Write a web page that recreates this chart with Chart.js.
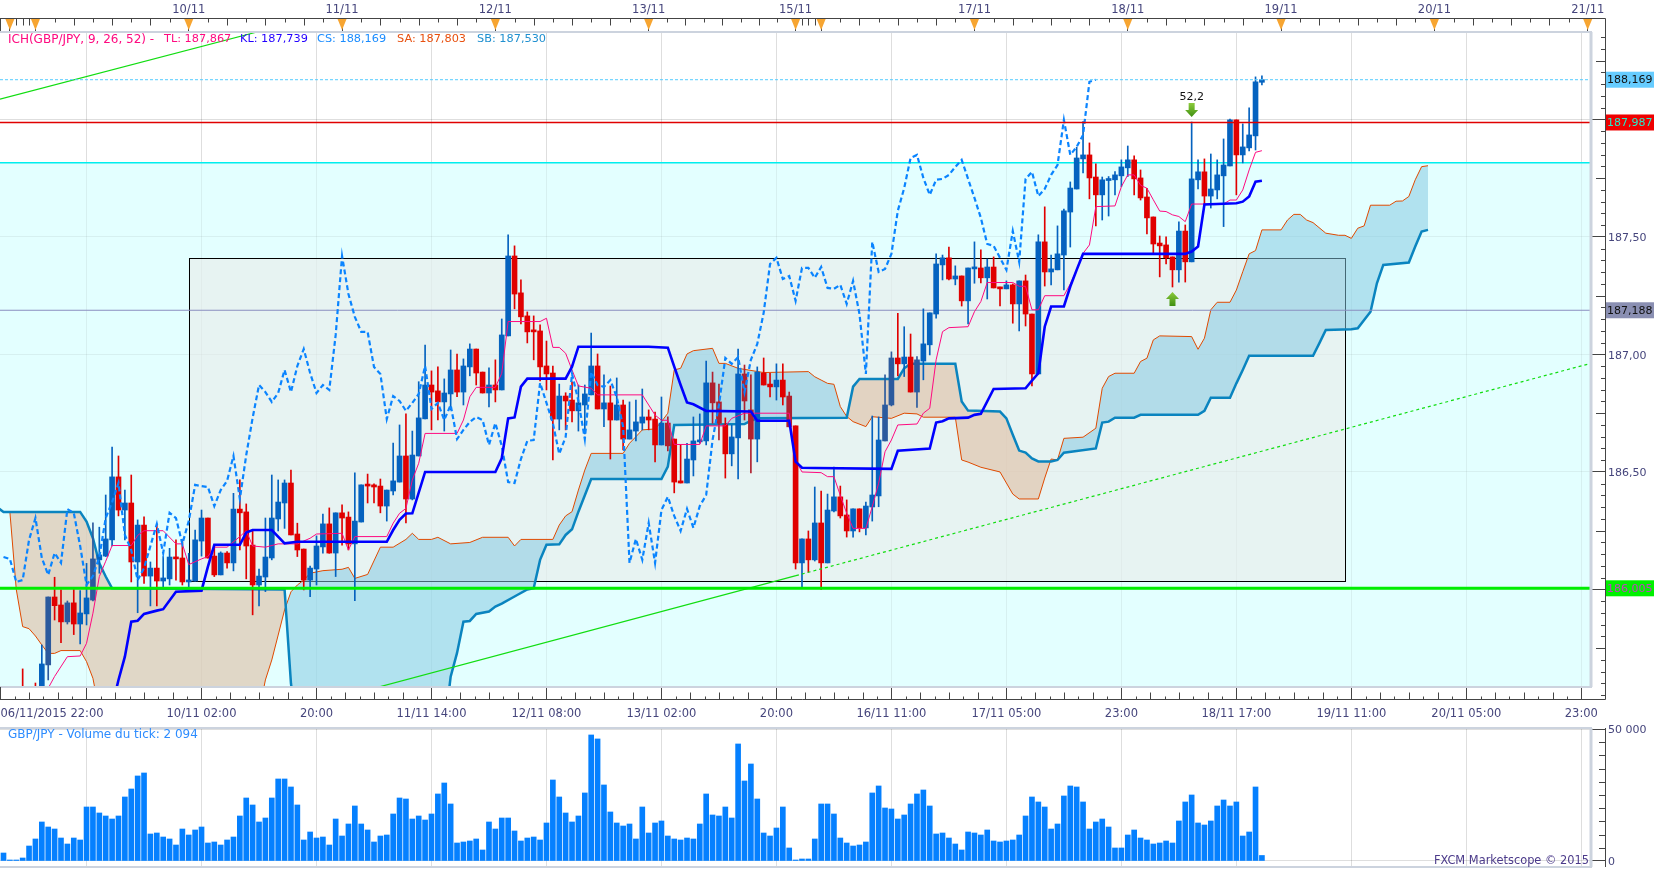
<!DOCTYPE html>
<html>
<head>
<meta charset="utf-8">
<title>GBP/JPY Ichimoku</title>
<script src="https://cdn.jsdelivr.net/npm/chart.js@4/dist/chart.umd.min.js"></script>
<style>
html,body{margin:0;padding:0;background:#fff;overflow:hidden;}
canvas{position:absolute;left:0;}
#mainChart{top:0;}
#volChart{top:722px;}
</style>
</head>
<body>
<canvas id="mainChart" width="1663" height="722"></canvas>
<canvas id="volChart" width="1663" height="148"></canvas>
<script>
// hourly candles, index 0 = first bar on the left
const opens=[185.50,185.52,185.48,185.56,185.52,185.57,185.55,185.679,185.968,185.934,
185.862,185.943,185.853,185.896,185.955,186.126,186.142,186.211,186.479,186.338,
186.368,186.117,186.274,186.057,186.091,186.036,186.045,186.138,186.134,186.032,
186.036,186.206,186.304,186.142,186.062,186.155,186.113,186.342,186.330,186.189,
186.019,186.053,186.134,186.300,186.368,186.453,186.236,186.172,186.040,186.087,
186.181,186.279,186.155,186.326,186.308,186.194,186.287,186.445,186.445,186.440,
186.355,186.419,186.457,186.568,186.385,186.568,186.726,186.870,186.845,186.798,
186.832,186.934,186.840,186.947,187.023,186.925,186.836,186.870,186.849,187.079,
187.419,187.262,187.164,187.100,187.100,186.951,186.921,186.725,186.823,186.806,
186.760,186.785,186.828,186.951,186.768,186.794,186.721,186.785,186.640,186.674,
186.708,186.734,186.725,186.615,186.708,186.640,186.462,186.453,186.551,186.628,
186.632,186.879,186.798,186.700,186.577,186.645,186.917,186.764,186.640,186.921,
186.874,186.862,186.891,186.823,186.696,186.113,186.215,186.126,186.283,186.113,
186.334,186.394,186.317,186.249,186.343,186.262,186.351,186.398,186.632,186.785,
186.985,186.960,186.989,186.840,186.972,187.041,187.172,187.381,187.411,187.321,
187.334,187.228,187.364,187.368,187.326,187.372,187.287,187.279,187.296,187.215,
187.313,187.172,186.917,187.479,187.351,187.360,187.423,187.606,187.704,187.832,
187.849,187.755,187.679,187.740,187.743,187.760,187.794,187.828,187.751,187.670,
187.585,187.474,187.466,187.415,187.360,187.525,187.394,187.743,187.777,187.674,
187.700,187.760,187.802,187.998,187.849,187.879,187.930,188.158];
const highs=[185.54,185.55,185.56,185.662,185.58,185.602,185.764,185.968,186.052,185.998,
185.951,186.0,185.995,186.111,186.284,186.265,186.402,186.606,186.568,186.423,
186.487,186.296,186.309,186.117,186.279,186.140,186.175,186.211,186.211,186.154,
186.253,186.338,186.304,186.182,186.160,186.161,186.409,186.466,186.364,186.253,
186.087,186.304,186.487,186.466,186.466,186.508,186.282,186.172,186.100,186.228,
186.321,186.347,186.326,186.360,186.330,186.496,186.445,186.491,186.449,186.470,
186.423,186.623,186.700,186.747,186.674,186.884,187.040,186.930,186.947,186.896,
187.019,187.002,186.981,187.045,187.023,186.925,186.943,186.977,187.151,187.509,
187.462,187.317,187.181,187.164,187.126,187.057,186.951,186.874,186.837,186.883,
186.870,186.870,187.091,187.002,186.913,186.866,186.900,186.806,186.798,186.806,
186.853,186.764,186.755,186.819,186.735,186.640,186.615,186.622,186.734,186.747,
186.972,186.925,186.874,186.730,186.700,187.023,186.955,186.913,186.947,186.985,
186.920,186.960,186.960,186.840,186.696,186.215,186.249,186.436,186.419,186.406,
186.521,186.440,186.381,186.343,186.343,186.372,186.738,186.734,186.913,187.011,
187.175,187.118,187.087,186.991,187.194,187.177,187.428,187.423,187.457,187.377,
187.334,187.368,187.479,187.445,187.406,187.415,187.287,187.313,187.300,187.313,
187.338,187.172,187.509,187.628,187.423,187.547,187.619,187.734,187.882,187.991,
187.900,187.811,187.755,187.757,187.778,187.828,187.887,187.845,187.785,187.707,
187.585,187.504,187.500,187.415,187.564,187.551,187.989,187.828,187.832,187.853,
187.828,187.917,188.002,187.998,187.981,188.049,188.181,188.185];
const lows=[185.46,185.46,185.44,185.50,185.48,185.50,185.50,185.615,185.870,185.774,
185.853,185.808,185.768,185.849,185.951,186.069,186.140,186.185,186.313,186.211,
186.032,185.901,186.026,185.930,185.930,186.012,186.019,186.040,186.019,186.012,
186.035,186.142,186.133,186.055,186.062,186.091,186.079,186.168,186.045,185.892,
185.930,185.991,186.126,186.249,186.260,186.232,186.140,185.998,185.969,186.019,
186.154,186.154,186.055,186.189,186.168,185.952,186.287,186.368,186.368,186.326,
186.291,186.402,186.457,186.283,186.381,186.568,186.726,186.679,186.721,186.674,
186.764,186.820,186.785,186.909,186.870,186.836,186.777,186.798,186.849,187.079,
187.194,187.130,187.049,186.977,186.887,186.849,186.551,186.679,186.679,186.713,
186.674,186.662,186.828,186.768,186.693,186.555,186.721,186.594,186.640,186.632,
186.679,186.679,186.543,186.615,186.589,186.411,186.453,186.453,186.483,186.622,
186.615,186.707,186.636,186.474,186.526,186.470,186.721,186.496,186.543,186.870,
186.819,186.806,186.785,186.692,186.087,186.011,186.074,186.121,186.0,186.113,
186.330,186.304,186.223,186.223,186.245,186.232,186.291,186.352,186.632,186.781,
186.909,186.906,186.840,186.775,186.892,186.998,187.154,187.317,187.317,187.296,
187.206,187.130,187.303,187.304,187.236,187.283,187.206,187.279,187.133,187.100,
187.121,186.866,186.917,187.291,187.296,187.360,187.275,187.457,187.704,187.772,
187.662,187.547,187.572,187.589,187.679,187.714,187.757,187.679,187.657,187.513,
187.428,187.330,187.385,187.287,187.308,187.308,187.394,187.704,187.640,187.623,
187.662,187.544,187.802,187.679,187.815,187.866,187.870,188.147];
const closes=[185.52,185.48,185.53,185.52,185.56,185.53,185.683,185.968,185.931,185.862,
185.943,185.853,185.900,185.964,186.130,186.147,186.215,186.479,186.338,186.368,
186.117,186.274,186.057,186.091,186.036,186.049,186.138,186.130,186.032,186.040,
186.211,186.304,186.134,186.062,186.155,186.113,186.342,186.326,186.185,186.019,
186.057,186.138,186.304,186.372,186.453,186.232,186.168,186.040,186.091,186.185,
186.279,186.155,186.326,186.304,186.194,186.291,186.445,186.440,186.436,186.355,
186.423,186.462,186.568,186.385,186.572,186.730,186.870,186.840,186.798,186.836,
186.934,186.840,186.951,187.023,186.921,186.836,186.870,186.849,187.083,187.419,
187.257,187.160,187.096,187.096,186.947,186.917,186.725,186.823,186.802,186.760,
186.794,186.832,186.951,186.768,186.794,186.721,186.785,186.640,186.679,186.713,
186.734,186.721,186.615,186.708,186.611,186.457,186.453,186.555,186.632,186.636,
186.879,186.794,186.707,186.577,186.649,186.917,186.802,186.640,186.925,186.870,
186.862,186.891,186.819,186.692,186.113,186.215,186.126,186.283,186.113,186.338,
186.394,186.313,186.249,186.343,186.262,186.355,186.402,186.636,186.785,186.985,
186.960,186.989,186.840,186.977,187.045,187.177,187.385,187.411,187.321,187.334,
187.228,187.368,187.368,187.326,187.372,187.283,187.279,187.296,187.215,187.313,
187.172,186.917,187.479,187.351,187.364,187.428,187.611,187.708,187.836,187.849,
187.751,187.679,187.743,187.747,187.764,187.798,187.828,187.747,187.666,187.581,
187.470,187.462,187.411,187.360,187.525,187.394,187.747,187.777,187.674,187.704,
187.764,187.806,187.998,187.849,187.883,187.934,188.160,188.169];
// dull coloured candles
const dimBars=[7,10,14,104,111,112,116,117,123,138,139,143];

const volumes=[3030,380,380,1140,5680,8340,14780,12880,12120,8710,
6440,8710,7960,20460,20460,18190,17050,15910,17050,24250,
27280,32210,33340,10230,10610,9090,8340,6060,12120,9850,
11750,12880,6820,7200,6060,7960,9090,17050,23870,21220,
14780,16290,23870,31070,31070,28040,21220,7960,10990,8710,
9090,6060,15910,9470,14020,20840,14020,11750,7200,9470,
9850,17810,23870,23490,15910,17050,15530,17810,25390,29550,
21600,6820,7200,7580,8340,4170,14780,12120,16290,16290,
11370,7580,8710,9090,7960,14400,30690,24250,18190,14780,
17050,25770,47740,46230,28800,18570,14400,13260,14020,8340,
20460,10610,14400,15160,9470,8340,7960,8710,8340,14020,
25390,17430,17050,20460,16290,44330,30310,36750,23490,10610,
9470,12500,20460,4930,380,760,760,8340,21600,21600,
17810,8710,6820,5680,6060,7200,25770,28420,20080,19700,
15910,17430,21600,25390,26900,20840,10230,10610,8710,6440,
4170,10990,10610,9850,11750,7580,7200,7580,7960,9850,
17050,24250,22360,20460,12120,14020,24630,28420,28040,22360,
12120,14780,15910,12880,4930,4930,9850,11750,8710,7960,
6440,6820,7580,6820,15160,22360,25010,14400,13640,15160,
20840,23110,20840,22360,9470,10990,28040,2094];

// Ichimoku lines, read at the bars where they change direction
const tenkanBars=[7,8,10,12,13,14,15,16,17,20,21,22,25,27,28,29,31,32,33,35,37,38,39,41,43,46,48,49,53,54,55,60,61,62,63,64,65,66,71,72,73,74,77,78,79,84,85,86,87,88,89,90,92,93,100,101,102,103,104,105,109,110,113,114,116,123,124,125,128,129,130,131,132,133,135,136,137,138,139,140,143,144,145,146,147,148,151,152,153,154,158,159,160,161,162,163,166,167,168,169,170,171,174,175,176,177,178,179,180,181,182,183,184,185,186,191,192,193,194,195,196,197];
const tenkanVals=[185.58,185.63,185.714,185.717,185.771,185.899,186.055,186.12,186.187,186.187,186.23,186.25,186.25,186.194,186.194,186.106,186.13,186.14,186.18,186.18,186.225,186.25,186.185,186.18,186.194,186.194,186.218,186.236,186.239,186.168,186.225,186.225,186.282,186.324,186.345,186.466,186.537,186.664,186.664,186.721,186.82,186.86,186.86,186.92,187.14,187.14,187.154,187.03,187.03,187.005,186.934,186.866,186.856,186.828,186.828,186.785,186.742,186.72,186.72,186.617,186.617,186.696,186.696,186.728,186.75,186.75,186.551,186.5,186.497,186.48,186.48,186.40,186.324,186.26,186.26,186.352,186.452,186.586,186.636,186.70,186.704,186.75,186.771,186.977,187.097,187.114,187.118,187.182,187.225,187.306,187.306,187.29,187.29,187.19,187.19,187.25,187.25,187.30,187.36,187.43,187.466,187.629,187.632,187.714,187.764,187.764,187.72,187.707,187.658,187.61,187.608,187.594,187.587,187.565,187.64,187.64,187.657,187.657,187.70,187.785,187.86,187.867];
const kijunBars=[17,18,19,20,21,22,24,25,27,31,32,33,37,38,39,42,44,46,60,61,62,63,64,66,77,78,79,80,81,82,88,89,90,101,104,105,106,107,108,110,117,118,123,124,125,127,139,140,145,146,147,148,151,152,153,155,160,161,162,163,164,166,167,168,169,185,186,187,188,193,194,195,196,197];
const kijunVals=[185.5,185.615,185.714,185.863,185.867,185.896,185.91,185.916,185.99,185.995,186.097,186.19,186.19,186.242,186.253,186.253,186.196,186.203,186.203,186.253,186.296,186.323,186.324,186.5,186.5,186.558,186.728,186.732,186.863,186.897,186.897,186.948,187.033,187.033,187.029,186.948,186.87,186.796,186.788,186.76,186.757,186.718,186.718,186.544,186.518,186.517,186.513,186.59,186.6,186.71,186.716,186.728,186.731,186.743,186.747,186.853,186.856,186.889,186.92,187.118,187.204,187.204,187.289,187.36,187.428,187.428,187.438,187.459,187.638,187.643,187.65,187.672,187.735,187.739];
const spanABars=[1,2,3,4,5,6,7,8,9,12,13,14,15,40,41,42,43,44,45,46,47,48,50,53,54,55,57,59,61,63,64,65,67,68,70,73,75,79,80,81,86,87,88,89,90,91,92,97,98,99,100,102,103,104,105,106,107,108,111,112,113,115,119,126,127,128,129,130,131,132,133,135,136,139,141,143,144,149,150,151,153,156,157,158,159,162,163,164,165,166,169,171,172,173,174,177,178,179,180,181,186,187,188,189,190,192,193,194,195,196,197,200,201,202,203,204,205,207,209,210,211,212,213,214,217,218,219,220,221,222,223];
const spanAVals=[186.33,186.0,185.842,185.833,185.802,185.764,185.728,185.728,185.74,185.74,185.693,185.622,185.48,185.48,185.615,185.70,185.806,185.913,185.99,186.019,186.04,186.069,186.08,186.086,186.094,186.047,186.064,186.18,186.18,186.213,186.239,186.213,186.213,186.222,186.194,186.2,186.222,186.222,186.185,186.213,186.213,186.274,186.313,186.331,186.423,186.508,186.579,186.579,186.622,186.65,186.679,186.683,186.714,186.75,186.934,186.941,187.002,187.016,187.026,186.962,186.962,186.941,186.923,186.927,186.905,186.891,186.877,186.873,186.778,186.736,186.714,186.693,186.735,186.728,186.75,186.747,186.733,186.733,186.551,186.542,186.52,186.5,186.453,186.406,186.385,186.385,186.474,186.555,186.551,186.643,186.648,186.686,186.856,186.906,186.92,186.92,186.97,186.984,187.062,187.079,187.076,187.022,187.069,187.19,187.222,187.222,187.274,187.352,187.428,187.442,187.53,187.53,187.572,187.596,187.596,187.572,187.561,187.516,187.507,187.507,187.494,187.537,187.547,187.635,187.635,187.652,187.653,187.672,187.743,187.799,187.803];
const spanBBars=[-1,0,12,13,14,15,16,17,44,45,46,69,70,71,72,73,74,76,77,78,80,82,83,84,85,87,88,89,90,92,103,104,105,116,117,118,132,133,134,140,141,142,149,150,151,156,157,158,159,160,161,162,164,165,166,171,172,173,174,177,178,187,188,189,192,193,194,195,205,206,207,211,212,213,214,215,216,220,221,222,223];
const spanBVals=[186.35,186.33,186.33,186.289,186.218,186.111,186.055,186.005,186.0,185.60,185.40,185.40,185.629,185.73,185.863,185.866,185.896,185.906,185.927,185.94,185.97,186.0,186.005,186.126,186.19,186.192,186.232,186.256,186.331,186.47,186.47,186.523,186.7,186.704,186.718,186.728,186.731,186.863,186.896,186.896,186.941,186.96,186.96,186.8,186.761,186.757,186.728,186.658,186.591,186.582,186.558,186.545,186.545,186.551,186.582,186.6,186.71,186.714,186.731,186.731,186.743,186.743,186.76,186.816,186.816,186.877,186.934,186.994,186.994,187.048,187.104,187.107,187.111,187.147,187.182,187.303,187.381,187.391,187.459,187.523,187.53];
// chikou span, one value per bar from bar 0
const chikou=[186.138,186.130,186.032,186.040,
186.211,186.304,186.134,186.062,186.155,186.113,186.342,186.326,186.185,186.019,
186.057,186.138,186.304,186.372,186.453,186.232,186.168,186.040,186.091,186.185,
186.279,186.155,186.326,186.304,186.194,186.291,186.445,186.440,186.436,186.355,
186.423,186.462,186.568,186.385,186.572,186.730,186.870,186.840,186.798,186.836,
186.934,186.840,186.951,187.023,186.921,186.836,186.870,186.849,187.083,187.419,
187.257,187.160,187.096,187.096,186.947,186.917,186.725,186.823,186.802,186.760,
186.794,186.832,186.951,186.768,186.794,186.721,186.785,186.640,186.679,186.713,
186.734,186.721,186.615,186.708,186.611,186.457,186.453,186.555,186.632,186.636,
186.879,186.794,186.707,186.577,186.649,186.917,186.802,186.640,186.925,186.870,
186.862,186.891,186.819,186.692,186.113,186.215,186.126,186.283,186.113,186.338,
186.394,186.313,186.249,186.343,186.262,186.355,186.402,186.636,186.785,186.985,
186.960,186.989,186.840,186.977,187.045,187.177,187.385,187.411,187.321,187.334,
187.228,187.368,187.368,187.326,187.372,187.283,187.279,187.296,187.215,187.313,
187.172,186.917,187.479,187.351,187.364,187.428,187.611,187.708,187.836,187.849,
187.751,187.679,187.743,187.747,187.764,187.798,187.828,187.747,187.666,187.581,
187.470,187.462,187.411,187.360,187.525,187.394,187.747,187.777,187.674,187.704,
187.764,187.806,187.998,187.849,187.883,187.934,188.160,188.169];

// drawn objects on the chart, in bars and prices
const trendABars=[-0.55,39.7];
const trendAVals=[188.086,188.372];
const trendBBars=[58.2,124.06];
const trendBVals=[185.581,186.059];
const trendBDashBars=[124.06,248.2];
const trendBDashVals=[186.059,186.96];
const boxBars=[29,210];
const boxPrices=[186.035,187.409];
const levelCurrent=188.169;
const levelRed=187.987;
const levelCyan=187.816;
const levelPurple=187.188;
const levelGreen=186.005;

// axes
const priceTicks=[186,186.5,187,187.5,188];
const bottomBars=[7.6,13,31,49,67,85,103,121,139,157,175,193,211,229,247];
const bottomLabels=["06/11/2015 22:00","","10/11 02:00","20:00","11/11 14:00","12/11 08:00","13/11 02:00","20:00","16/11 11:00","17/11 05:00","23:00","18/11 17:00","19/11 11:00","20/11 05:00","23:00"];
const dayBars=[1,5,29,53,77,101,124,128,152,176,200,224,248];
const dayLabels=["","","10/11","11/11","12/11","13/11","15/11","","17/11","18/11","19/11","20/11","21/11"];
const volumeTicks=[0,50000];

const xMin=-0.548,xMax=248.36;
const FONT='"DejaVu Sans"';
const AXIS_COLOR="#444";
const TEXT_COLOR="#45457c";
const GRID_COLOR="rgba(0,0,0,0.13)";

function pts(bars,vals){
    return bars.map(function(b,i){ return {x:b,y:vals[i]}; });
}
function flat(v){
    return [{x:xMin,y:v},{x:xMax,y:v}];
}
function candleColor(i){
    var up=closes[i]>=opens[i];
    if(dimBars.includes(i)) return up?"#2b5a9e":"#b0202f";
    return up?"#0562bf":"#e00000";
}
function lineSet(data,color,width,order,extra){
    return Object.assign({type:"line",data:data,borderColor:color,borderWidth:width,pointRadius:0,tension:0,fill:false,order:order},extra||{});
}
function noPadding(s){
    s.paddingLeft=0;
    s.paddingRight=0;
    s.paddingTop=0;
    s.paddingBottom=0;
}
function stroke(ctx,x1,y1,x2,y2){
    ctx.beginPath();
    ctx.moveTo(x1,y1);
    ctx.lineTo(x2,y2);
    ctx.stroke();
}
function priceTag(ctx,y,text,bg,fg){
    ctx.fillStyle=bg;
    ctx.fillRect(1606,y-8,48,16);
    ctx.fillStyle=fg;
    ctx.font="11px "+FONT;
    ctx.textAlign="left";
    ctx.textBaseline="middle";
    ctx.fillText(text,1607,y+0.5);
}
function arrow(ctx,x,y,dir){
    var g=ctx.createLinearGradient(0,y-7,0,y+7);
    g.addColorStop(0,"#8ccb3c");
    g.addColorStop(1,"#3f8f12");
    ctx.fillStyle=g;
    ctx.beginPath();
    ctx.moveTo(x-3,y-7*dir);
    ctx.lineTo(x+3,y-7*dir);
    ctx.lineTo(x+3,y);
    ctx.lineTo(x+6.5,y);
    ctx.lineTo(x,y+7*dir);
    ctx.lineTo(x-6.5,y);
    ctx.lineTo(x-3,y);
    ctx.closePath();
    ctx.fill();
}

const backdrop={
    id:"backdrop",
    beforeDraw:function(chart){
        var ctx=chart.ctx,a=chart.chartArea,y=chart.scales.y;
        ctx.save();
        ctx.fillStyle="#ffffff";
        ctx.fillRect(0,0,chart.width,chart.height);
        ctx.fillStyle="#e3ffff";
        ctx.fillRect(a.left,y.getPixelForValue(levelCyan),a.width,a.bottom-y.getPixelForValue(levelCyan));
        ctx.restore();
    },
    beforeDatasetsDraw:function(chart){
        var ctx=chart.ctx,a=chart.chartArea,x=chart.scales.x,y=chart.scales.y;
        var l=x.getPixelForValue(boxBars[0]),r=x.getPixelForValue(boxBars[1]);
        var t=y.getPixelForValue(boxPrices[1]),b=y.getPixelForValue(boxPrices[0]);
        ctx.save();
        // cyan zone again over the grid, so the grid is fainter there
        ctx.fillStyle="rgba(227,255,255,0.55)";
        ctx.fillRect(a.left,y.getPixelForValue(levelCyan),a.width,a.bottom-y.getPixelForValue(levelCyan));
        ctx.fillStyle="rgba(235,233,231,0.55)";
        ctx.fillRect(l,t,r-l,b-t);
        ctx.strokeStyle="#000";
        ctx.lineWidth=1;
        ctx.strokeRect(Math.round(l)+0.5,Math.round(t)+0.5,Math.round(r-l),Math.round(b-t));
        ctx.restore();
    },
    afterDraw:function(chart){
        var ctx=chart.ctx,a=chart.chartArea,x=chart.scales.x,top=chart.scales.xTop,y=chart.scales.y;
        var i,k,px;
        ctx.save();
        // plot frame
        ctx.strokeStyle="#ccd3de";
        ctx.lineWidth=2;
        stroke(ctx,0,a.top,a.right+2,a.top);
        stroke(ctx,0,a.bottom,a.right+2,a.bottom);
        ctx.lineWidth=3;
        stroke(ctx,a.right+1,a.top,a.right+1,a.bottom);
        // axis lines
        ctx.strokeStyle=AXIS_COLOR;
        ctx.lineWidth=1;
        stroke(ctx,0,18.5,1605.5,18.5);
        stroke(ctx,0,699.5,1605.5,699.5);
        stroke(ctx,1605.5,18.5,1605.5,699.5);
        stroke(ctx,0.5,18.5,0.5,31);
        stroke(ctx,0.5,687,0.5,699);
        // smaller ticks on the right axis
        for(i=0;i<60;i++){
            var val=185.55+i*0.05;
            if(val>188.37) break;
            var five=Math.round(val*100)%50===0;
            if(five) continue;
            var mid=Math.round(val*100)%25===0;
            px=Math.round(y.getPixelForValue(val))+0.5;
            stroke(ctx,mid?1596:1601,px,1605,px);
        }
        // smaller ticks on the bottom axis, 8 steps between labelled ticks
        for(i=-5;i<247;i+=18){
            for(k=1;k<8;k++){
                px=Math.round(x.getPixelForValue(i+k*2.25))+0.5;
                stroke(ctx,px,k%2?696.5:692.5,px,699);
            }
        }
        // smaller ticks on the top axis, between days
        for(i=0;i<dayBars.length-1;i++){
            var span=dayBars[i+1]-dayBars[i];
            var steps=span>6?8:span;
            for(k=1;k<steps;k++){
                px=Math.round(top.getPixelForValue(dayBars[i]+k*span/steps))+0.5;
                stroke(ctx,px,19,px,(steps===8&&k%2)?22.5:25.5);
            }
        }
        // day markers
        ctx.fillStyle="#f7a531";
        dayBars.forEach(function(b){
            var m=top.getPixelForValue(b);
            ctx.beginPath();
            ctx.moveTo(m-4.5,19);
            ctx.lineTo(m+4.5,19);
            ctx.lineTo(m,30);
            ctx.closePath();
            ctx.fill();
        });
        // legend
        ctx.textAlign="left";
        ctx.textBaseline="middle";
        ctx.font="12px "+FONT;
        ctx.fillStyle="#ff0a80";
        ctx.fillText("ICH(GBP/JPY, 9, 26, 52) - ",8,39.5);
        ctx.font="11.3px "+FONT;
        [["TL: 187,867","#ff0a80",164],["KL: 187,739","#2200ff",240],["CS: 188,169","#1a8cff",317],["SA: 187,803","#e8500f",397],["SB: 187,530","#2090d0",477]].forEach(function(t){
            ctx.fillStyle=t[1];
            ctx.fillText(t[0],t[2],39.5);
        });
        // price tags
        priceTag(ctx,y.getPixelForValue(levelCurrent),"188,169","#66ccff","#111");
        priceTag(ctx,y.getPixelForValue(levelRed),"187,987","#ee0000","#22eecc");
        priceTag(ctx,y.getPixelForValue(levelPurple),"187,188","#8a8fb2","#111");
        priceTag(ctx,y.getPixelForValue(levelGreen),"186,005","#00f000","#c040c0");
        // signal arrows
        arrow(ctx,x.getPixelForValue(186),y.getPixelForValue(188.04),1);
        arrow(ctx,x.getPixelForValue(183),y.getPixelForValue(187.236),-1);
        ctx.fillStyle="#111";
        ctx.font="11px "+FONT;
        ctx.textAlign="center";
        ctx.fillText("52,2",x.getPixelForValue(186),97);
        ctx.restore();
    }
};

new Chart(document.getElementById("mainChart"),{
    type:"bar",
    data:{
        datasets:[
            lineSet(pts(spanABars,spanAVals),"#e04a00",1,60,{fill:{target:"+1",above:"rgba(130,200,225,0.52)",below:"rgba(222,190,165,0.62)"}}),
            lineSet(pts(spanBBars,spanBVals),"#0a84bf",2.5,59),
            lineSet(flat(levelPurple),"#8a8fc0",1,58),
            lineSet(flat(levelCyan),"#00eeee",1.5,58),
            {type:"bar",data:closes.map(function(c,i){ return {x:i,y:[lows[i],highs[i]]}; }),backgroundColor:closes.map(function(c,i){ return candleColor(i); }),barThickness:1,grouped:false,order:50},
            {type:"bar",data:closes.map(function(c,i){ return {x:i,y:[opens[i],c]}; }),backgroundColor:closes.map(function(c,i){ return candleColor(i); }),barThickness:5,minBarLength:2,grouped:false,order:49},
            lineSet(pts(tenkanBars,tenkanVals),"#ff0a80",1,30),
            lineSet(chikou.map(function(v,i){ return {x:i,y:v}; }),"#0a84ff",2.2,28,{borderDash:[5,3]}),
            lineSet(pts(kijunBars,kijunVals),"#0000ff",2.6,25),
            lineSet(flat(levelRed),"#e00000",1.5,20),
            lineSet(flat(levelCurrent),"#55ccff",1,20,{borderDash:[3,2]}),
            lineSet(pts(trendABars,trendAVals),"#11dd11",1.2,20),
            lineSet(pts(trendBBars,trendBVals),"#11dd11",1.2,20),
            lineSet(pts(trendBDashBars,trendBDashVals),"#11dd11",1.2,20,{borderDash:[3,3]}),
            lineSet(flat(levelGreen),"#00ee00",3,10)
        ]
    },
    options:{
        responsive:false,
        animation:false,
        devicePixelRatio:1,
        layout:{padding:0},
        plugins:{legend:{display:false},tooltip:{enabled:false},title:{display:false}},
        scales:{
            x:{
                type:"linear",position:"bottom",min:xMin,max:xMax,offset:false,
                afterFit:function(s){ s.height=35; noPadding(s); },
                afterBuildTicks:function(s){ s.ticks=bottomBars.map(function(b){ return {value:b}; }); },
                border:{display:false},
                grid:{offset:false,lineWidth:1,tickWidth:1,tickLength:12,
                    color:function(c){ return c.tick&&c.tick.value===bottomBars[0]?"rgba(0,0,0,0)":GRID_COLOR; },
                    tickColor:function(c){ return c.tick&&c.tick.value===bottomBars[0]?"rgba(0,0,0,0)":AXIS_COLOR; }},
                ticks:{autoSkip:false,maxRotation:0,padding:8,color:TEXT_COLOR,font:{family:"DejaVu Sans",size:11.5},
                    callback:function(v,i){ return bottomLabels[i]; }}
            },
            xTop:{
                type:"linear",position:"top",min:xMin,max:xMax,offset:false,
                afterFit:function(s){ s.height=32; noPadding(s); },
                afterBuildTicks:function(s){ s.ticks=dayBars.map(function(b){ return {value:b}; }); },
                border:{display:false},
                grid:{offset:false,drawOnChartArea:false,tickLength:13,tickColor:AXIS_COLOR,tickWidth:1},
                ticks:{autoSkip:false,maxRotation:0,padding:2,color:TEXT_COLOR,font:{family:"DejaVu Sans",size:11.5},
                    callback:function(v,i){ return dayLabels[i]; }}
            },
            y:{
                type:"linear",position:"right",min:185.585,max:188.372,
                afterFit:function(s){ s.width=73; noPadding(s); },
                afterBuildTicks:function(s){ s.ticks=priceTicks.map(function(v){ return {value:v}; }); },
                border:{display:false},
                grid:{lineWidth:1,tickWidth:1,tickLength:15,color:GRID_COLOR,tickColor:AXIS_COLOR},
                ticks:{padding:3,labelOffset:1.5,color:TEXT_COLOR,font:{family:"DejaVu Sans",size:11},
                    callback:function(v){ return v.toFixed(2).replace(".",","); }}
            }
        }
    },
    plugins:[backdrop]
});

const volumePane={
    id:"volumePane",
    beforeDraw:function(chart){
        chart.ctx.save();
        chart.ctx.fillStyle="#ffffff";
        chart.ctx.fillRect(0,0,chart.width,chart.height);
        chart.ctx.restore();
    },
    afterDraw:function(chart){
        var ctx=chart.ctx,a=chart.chartArea,y=chart.scales.y;
        ctx.save();
        ctx.strokeStyle="#ccd3de";
        ctx.lineWidth=2;
        stroke(ctx,0,a.top,a.right+2,a.top);
        stroke(ctx,0,a.bottom,a.right+2,a.bottom);
        ctx.lineWidth=3;
        stroke(ctx,a.right+1,a.top,a.right+1,a.bottom);
        ctx.strokeStyle=AXIS_COLOR;
        ctx.lineWidth=1;
        stroke(ctx,1605.5,a.top,1605.5,a.bottom);
        for(var v=5000;v<50000;v+=5000){
            var py=Math.round(y.getPixelForValue(v))+0.5;
            stroke(ctx,1599,py,1605,py);
        }
        ctx.textBaseline="middle";
        ctx.textAlign="left";
        ctx.font="12px "+FONT;
        ctx.fillStyle="#2d8cff";
        ctx.fillText("GBP/JPY - Volume du tick: 2 094",8,13);
        ctx.textAlign="right";
        ctx.font="11.4px "+FONT;
        ctx.fillStyle="#4b3a8a";
        ctx.fillText("FXCM Marketscope © 2015",1589,139);
        ctx.restore();
    }
};

new Chart(document.getElementById("volChart"),{
    type:"bar",
    data:{datasets:[{data:volumes.map(function(v,i){ return {x:i,y:v}; }),backgroundColor:"#0580ff",barThickness:5,grouped:false}]},
    options:{
        responsive:false,
        animation:false,
        devicePixelRatio:1,
        layout:{padding:{top:6,bottom:3}},
        plugins:{legend:{display:false},tooltip:{enabled:false}},
        scales:{
            x:{
                type:"linear",position:"bottom",min:xMin,max:xMax,offset:false,
                afterFit:function(s){ s.height=0; noPadding(s); },
                afterBuildTicks:function(s){ s.ticks=bottomBars.slice(1).map(function(b){ return {value:b}; }); },
                border:{display:false},
                grid:{offset:false,lineWidth:1,drawTicks:false,color:GRID_COLOR},
                ticks:{display:false,autoSkip:false}
            },
            y:{
                type:"linear",position:"right",min:-2273,max:50379,
                afterFit:function(s){ s.width=73; noPadding(s); },
                afterBuildTicks:function(s){ s.ticks=volumeTicks.map(function(v){ return {value:v}; }); },
                border:{display:false},
                grid:{lineWidth:1,tickWidth:1,tickLength:15,color:GRID_COLOR,tickColor:AXIS_COLOR},
                ticks:{padding:3,labelOffset:1.5,color:TEXT_COLOR,font:{family:"DejaVu Sans",size:11},
                    callback:function(v){ return v===0?"0":"50 000"; }}
            }
        }
    },
    plugins:[volumePane]
});
</script>
</body>
</html>
